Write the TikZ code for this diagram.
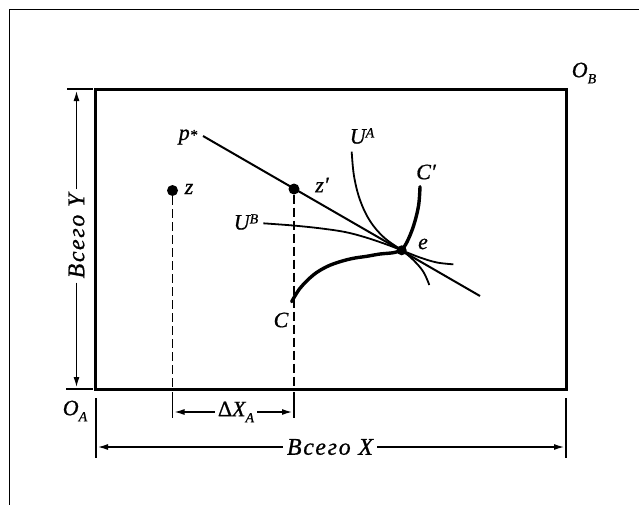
\documentclass[tikz,border=0pt]{standalone}
\usepackage{fontspec}
\setmainfont{Liberation Serif}
\usetikzlibrary{arrows.meta}
\newcommand{\supx}[1]{\raisebox{0.6ex}{\fontsize{14}{14}\selectfont #1}}
\newcommand{\subx}[1]{\raisebox{-0.6ex}{\fontsize{14}{14}\selectfont #1}}
\newcommand{\smallstar}{{\fontsize{15}{15}\selectfont *}}
\begin{document}
\begin{tikzpicture}[x=1pt,y=-1pt,
  lab/.style={font=\fontsize{22}{26}\selectfont\itshape\addfontfeature{FakeBold=0.7}, inner sep=0pt},
  biglab/.style={font=\fontsize{24}{28}\selectfont\itshape\addfontfeature{FakeBold=0.7,LetterSpace=7}, inner sep=4pt, fill=white},
  dotnode/.style={circle, fill=black, inner sep=0pt, minimum size=11pt},
  boxline/.style={line width=3pt},
  frameline/.style={line width=1.3pt},
  dimline/.style={line width=1.2pt},
  dimtip/.style={dimline, -{Latex[length=10pt,width=6pt]}, shorten >=2pt},
  pline/.style={line width=2pt},
  ucurve/.style={line width=1.8pt},
  ccurve/.style={line width=3.4pt, line cap=round},
  dashline/.style={line width=1.3pt, dash pattern=on 9pt off 4pt}
]
\useasboundingbox (0,0) rectangle (639,504);
% outer frame
\coordinate (fbl) at (9.5,506);
\coordinate (ftl) at (9.5,9.5);
\coordinate (ftr) at (641,9.5);
\draw[frameline] (fbl) -- (ftl) -- (ftr);
% box
\coordinate (OA) at (95,389);
\coordinate (OB) at (566,89);
\draw[boxline] (OA) rectangle (OB);
\node[lab] (lOB) at (584,73) {O\subx{B}};
\node[lab] (lOA) at (75,411) {O\subx{A}};
% Y dimension
\coordinate (ytt1) at (67,89); \coordinate (ytt2) at (93,89);
\coordinate (ybt1) at (66,389); \coordinate (ybt2) at (93,389);
\draw[dimline] (ytt1) -- (ytt2);
\draw[dimline] (ybt1) -- (ybt2);
\coordinate (ytop) at (76.5,89); \coordinate (ybot) at (76.5,389);
\node[biglab, rotate=90] (ty) at (76.5,236) {Всего Y};
\draw[dimtip] (ty) -- (ytop);
\draw[dimtip] (ty) -- (ybot);
% X dimension
\coordinate (xlt1) at (96,398); \coordinate (xlt2) at (96,458);
\coordinate (xrt1) at (566,398); \coordinate (xrt2) at (566,458);
\draw[dimline] (xlt1) -- (xlt2);
\draw[dimline] (xrt1) -- (xrt2);
\coordinate (xl) at (96,447); \coordinate (xr) at (566,447);
\node[biglab] (tx) at (330,447) {Всего X};
\draw[dimtip] (tx) -- (xl);
\draw[dimtip] (tx) -- (xr);
% Delta X_A dimension
\coordinate (dlt1) at (172.5,392); \coordinate (dlt2) at (172.5,418);
\coordinate (drt1) at (294,392); \coordinate (drt2) at (294,418);
\draw[dimline] (dlt1) -- (dlt2);
\draw[dimline] (drt1) -- (drt2);
\coordinate (dl) at (172.5,412); \coordinate (dr) at (294,412);
\node[lab, fill=white, inner sep=3pt] (tdx) at (236,412) {\upshape Δ\itshape X\subx{A}};
\draw[dimtip] (tdx) -- (dl);
\draw[dimtip] (tdx) -- (dr);
% dots
\node[dotnode] (z) at (172.5,190.5) {};
\node[dotnode] (zp) at (294,189) {};
% dashed drops
\coordinate (zb) at (172.5,389);
\coordinate (zpb) at (294,389);
\draw[dashline] (z) -- (zb);
\draw[dashline] (zp) -- (zpb);
% price line
\coordinate (p1) at (203,136);
\coordinate (p2) at (480,296);
\draw[pline] (p1) -- (p2);
% indifference curves
\draw[ucurve] plot[smooth, tension=0.6] coordinates {(263.3,223.3) (293,225.5) (320,228.3) (345,232) (366,237.5) (386.7,244.5) (401.7,250.3) (420,257.5) (437,262.5) (453.3,264.3)};
\draw[ucurve] plot[smooth, tension=0.6] coordinates {(351.7,151.7) (354,176) (360,200) (370,221) (384,237.5) (401.7,250.3) (413.3,260) (423.3,271.7) (429.3,285)};
% contract curve
\draw[ccurve] plot[smooth, tension=0.6] coordinates {(420,186.7) (418.5,206) (413.5,226) (407,242) (401.7,250.3)};
\draw[ccurve] plot[smooth, tension=0.6] coordinates {(401.7,250.3) (393.3,252.7) (380,254) (366.7,256.3) (353.3,258.3) (340,261.7) (326.7,266.7) (313.3,275) (300,288.3) (291.7,301.7)};
\node[dotnode, minimum size=10pt] (e) at (401.7,250.3) {};
% labels
\node[lab] (lp) at (188,137) {p\smallstar};
\node[lab] (lz) at (189,189) {z};
\node[lab] (lzp) at (322,185) {z′};
\node[lab] (lUB) at (246,222) {U\supx{B}};
\node[lab] (lUA) at (362,136) {U\supx{A}};
\node[lab] (lCp) at (426,172) {C′};
\node[lab] (le) at (423,244) {e};
\node[lab] (lC) at (281,320) {C};
\end{tikzpicture}
\end{document}
